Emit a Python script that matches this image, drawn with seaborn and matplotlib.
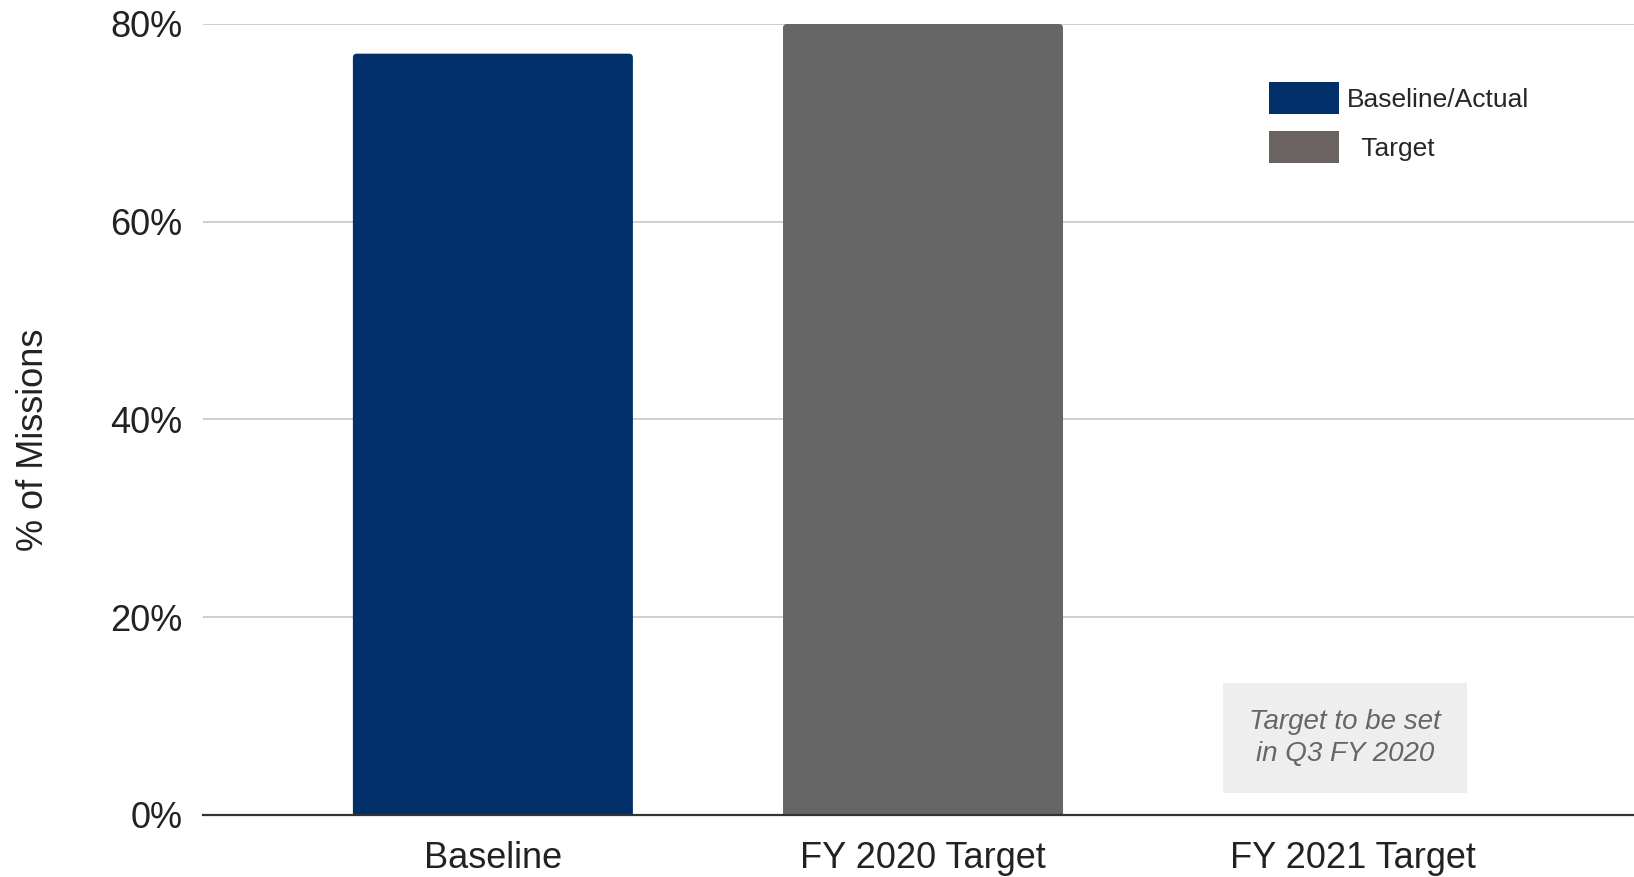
import matplotlib
matplotlib.use("Agg")
import matplotlib.pyplot as plt
import matplotlib.patches as mpatches
from matplotlib.patches import FancyBboxPatch
from matplotlib.ticker import FuncFormatter
import seaborn as sns
import pandas as pd
import numpy as np

categories = ["Baseline", "FY 2020 Target", "FY 2021 Target"]
values = [77, 80, np.nan]
bar_colors = ["#002f6a", "#666666", "#666666"]
legend_labels = ["Baseline/Actual", "  Target"]
legend_colors = ["#002f6a", "#6b6361"]
y_ticks = [0, 20, 40, 60, 80]
note_text = "Target to be set\nin Q3 FY 2020"

sns.set_theme(style="white")
plt.rcParams["font.family"] = ["Liberation Sans", "DejaVu Sans"]

W, H = 1634, 877
fig = plt.figure(figsize=(W / 100, H / 100), dpi=100)
ax = fig.add_axes([203 / W, 1 - 815 / H, 1 - 203 / W, (815 - 24) / H])

df = pd.DataFrame({"category": categories, "value": values})
sns.barplot(data=df, x="category", y="value", hue="category",
            palette=bar_colors, width=0.651, legend=False, ax=ax,
            saturation=1, linewidth=0)

ax.set_ylim(0, 80)
ax.set_xlim(-0.674, 2.653)

# round the top corners of the bars (radius ~4 px)
fig.canvas.draw()
p0 = ax.transData.transform((0, 0))
px_x = ax.transData.transform((1, 0))[0] - p0[0]
px_y = ax.transData.transform((0, 1))[1] - p0[1]
r_px = 4.0
rx = r_px / px_x
aspect = px_x / px_y
for bar in list(ax.patches):
    x, y, w, h = bar.get_x(), bar.get_y(), bar.get_width(), bar.get_height()
    if not np.isfinite(h) or h == 0:
        continue
    fc = bar.get_facecolor()
    bar.remove()
    ext = r_px / px_y
    fb = FancyBboxPatch((x, y - ext), w, h + ext,
                        boxstyle=f"round,pad=0,rounding_size={rx}",
                        mutation_aspect=aspect, facecolor=fc, edgecolor="none",
                        zorder=2)
    ax.add_patch(fb)

ax.set_yticks(y_ticks)
ax.yaxis.set_major_formatter(FuncFormatter(lambda v, p: f"{v:.0f}%"))
ax.grid(axis="y", color="#cccccc", linewidth=1.3)
ax.set_axisbelow(True)
for s in ["top", "right", "left"]:
    ax.spines[s].set_visible(False)
ax.spines["bottom"].set_color("#333333")
ax.spines["bottom"].set_linewidth(1.6)
ax.spines["bottom"].set_zorder(5)
ax.tick_params(axis="both", length=0, labelsize=26, colors="#222222")
ax.tick_params(axis="y", pad=15)
ax.tick_params(axis="x", pad=19)
ax.set_xlabel("")
ax.set_ylabel("")
fig.text(34 / W, 1 - 440 / H, "% of Missions", rotation=90, ha="center",
         va="center", fontsize=26, color="#222222")

handles = [mpatches.Patch(facecolor=c, edgecolor="none", label=l)
           for c, l in zip(legend_colors, legend_labels)]
fig.legend(handles=handles, loc="upper left",
           bbox_to_anchor=(1269 / W, 1 - 82 / H), bbox_transform=fig.transFigure,
           frameon=False, fontsize=19, handlelength=2.65, handleheight=1.48,
           handletextpad=0.3, labelspacing=0.66, borderpad=0, borderaxespad=0)

ax.text(1.981, (815 - 738) / 791 * 80, note_text, ha="center", va="center",
        fontsize=20, style="italic", color="#666666", linespacing=1.3,
        bbox=dict(boxstyle="square,pad=0.95", facecolor="#eeeeee", edgecolor="none"))

fig.savefig("out.png", dpi=100)
